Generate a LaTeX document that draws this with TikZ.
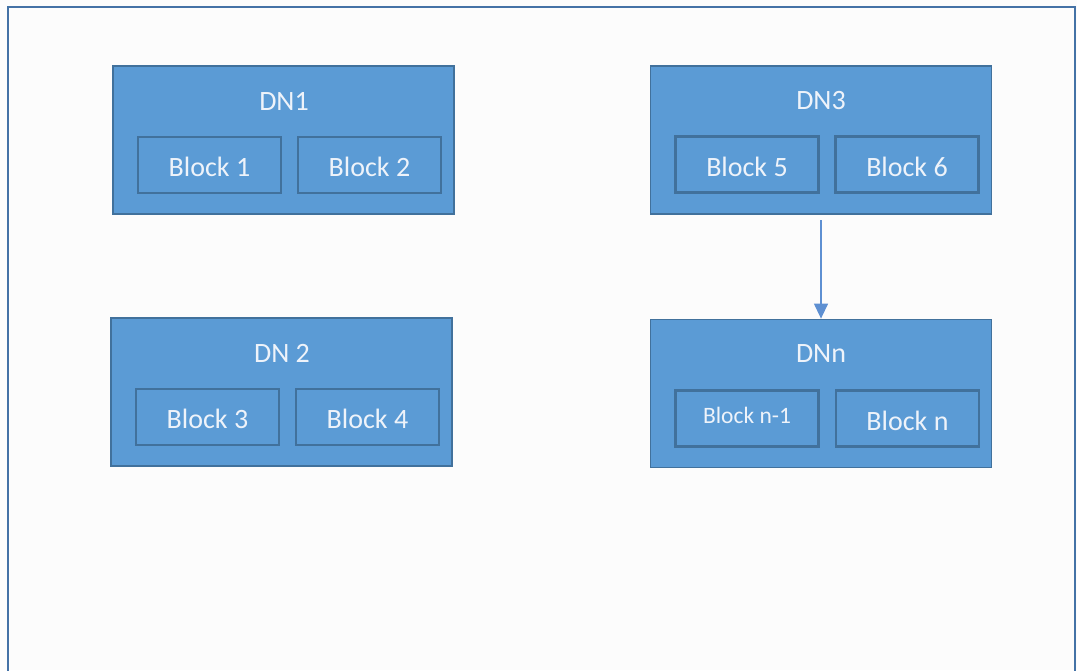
\documentclass[tikz,border=0pt]{standalone}
\usepackage{fontspec}
\setmainfont{Carlito}
\usetikzlibrary{arrows.meta}
\definecolor{dnfill}{HTML}{5B9BD5}
\definecolor{dnline}{HTML}{41719C}
\definecolor{frameline}{HTML}{4472A6}
\definecolor{txt}{HTML}{EEF3FA}
\definecolor{arrowc}{HTML}{5E90D2}
\definecolor{bg}{HTML}{FCFCFC}
\newcommand{\dwn}[1]{\raisebox{-2pt}[\height][\depth]{#1}}
\newcommand{\upp}[1]{\raisebox{3pt}[\height][\depth]{#1}}
\tikzset{
  dnbox/.style={draw=dnline, fill=dnfill, line width=1.8pt, minimum width=341pt, minimum height=148pt, inner sep=0pt},
  blockbox/.style={draw=dnline, line width=2.2pt, minimum width=143pt, minimum height=56pt, inner sep=0pt, text=txt, font=\fontsize{28}{30}\selectfont},
  title/.style={text=txt, font=\fontsize{28}{30}\selectfont, inner sep=0pt},
  conn/.style={draw=arrowc, line width=1.3pt, -{Triangle[width=14pt,length=15pt]}}
}
\begin{document}
\begin{tikzpicture}[x=1pt,y=-1pt]
\useasboundingbox (0,0) rectangle (1077,670);
\fill[bg] (0,0) rectangle (1077,670);
\begin{scope}
\clip (0,0) rectangle (1077,670);
\draw[frameline, line width=2pt] (8,700) -- (8,7) -- (1075,7) -- (1075,700);
\end{scope}
% DN boxes
\node[dnbox] (dn1) at (283.5,140) {};
\node[dnbox] (dn3) at (821,140) {};
\node[dnbox] (dn2) at (281.5,392) {};
\node[dnbox] (dnn) at (821,393.5) {};
% titles
\node[title] (t1) at (284,101) {DN1};
\node[title] (t3) at (821,101) {DN3};
\node[title] (t2) at (282,353) {DN 2};
\node[title] (tn) at (821,354) {DNn};
% blocks
\node[blockbox] (b1) at (209.5,165) {\dwn{Block 1}};
\node[blockbox] (b2) at (369.5,165) {\dwn{Block 2}};
\node[blockbox] (b5) at (747,164.5) {\dwn{Block 5}};
\node[blockbox] (b6) at (907,164.5) {\dwn{Block 6}};
\node[blockbox] (b3) at (207.5,417) {\dwn{Block 3}};
\node[blockbox] (b4) at (367.5,417) {\dwn{Block 4}};
\node[blockbox, font=\fontsize{23.5}{25}\selectfont] (bn1) at (747,418.5) {\upp{Block n-1}};
\node[blockbox] (bn) at (907.5,418.5) {\dwn{Block n}};
% connector
\coordinate (astart) at (821,220);
\draw[conn] (astart) -- (dnn.north);
\end{tikzpicture}
\end{document}
